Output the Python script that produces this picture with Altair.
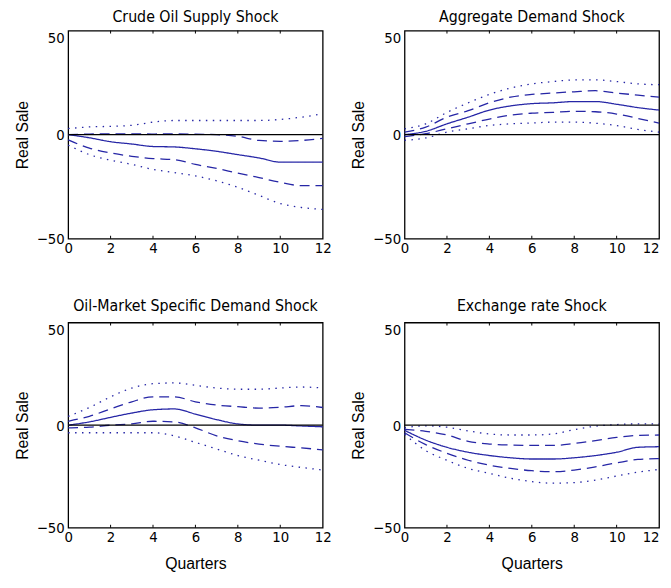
import altair as alt
import pandas as pd

quarters = list(range(13))

crude_mid = [0, -1.5, -3.4, -4.5, -5.7, -5.9, -6.8, -8.0, -9.6, -11.2, -13.2, -13.2, -13.2]
crude_up_dash = [0, 0.3, 0.4, 0.4, 0.3, 0.4, 0.2, 0, -0.8, -2.8, -3.2, -2.8, -1.8]
crude_lo_dash = [-2.5, -6.5, -8.8, -10.4, -11.5, -12.0, -14.3, -16.2, -18.5, -20.6, -22.9, -24.5, -24.5]
crude_up_dot = [2.9, 3.7, 4.0, 4.5, 6.0, 6.8, 6.8, 6.8, 6.8, 6.8, 7.3, 8.4, 10.0]
crude_lo_dot = [-5.0, -9.6, -12.3, -14.3, -16.7, -18.2, -19.8, -22.2, -25.3, -29.2, -33.1, -35.0, -35.9]

agg_mid = [0, 1.6, 5.2, 8.4, 11.8, 13.8, 14.9, 15.3, 15.9, 15.9, 14.6, 13.0, 11.8]
agg_up_dash = [1.2, 3.6, 8.4, 11.5, 15.3, 18.0, 19.3, 20.0, 20.6, 21.1, 20.0, 19.0, 18.0]
agg_lo_dash = [-1.0, 0.5, 2.8, 5.2, 7.5, 9.4, 10.3, 10.7, 11.2, 11.0, 9.9, 7.8, 5.5]
agg_up_dot = [2.8, 5.2, 10.7, 15.3, 19.3, 22.4, 24.4, 25.5, 26.3, 26.3, 25.5, 24.4, 24.0]
agg_lo_dot = [-2.7, -1.6, 1.2, 2.8, 4.4, 5.2, 5.6, 6.0, 6.0, 5.5, 4.4, 2.5, 1.2]

oil_mid = [0, 1.6, 3.8, 5.9, 7.5, 7.9, 5.4, 2.7, 0.6, 0, 0, -0.4, -0.8]
oil_up_dash = [1.9, 4.3, 7.9, 11.4, 13.8, 13.8, 11.4, 9.8, 9.0, 8.3, 8.7, 9.5, 8.6]
oil_lo_dash = [-1.3, -1.0, 0, 0.6, 1.9, 1.6, -1.3, -5.2, -7.6, -9.2, -10.3, -11.1, -12.0]
oil_up_dot = [4.3, 8.6, 13.8, 18.1, 20.2, 20.6, 19.4, 18.1, 17.5, 17.5, 18.1, 18.6, 18.1]
oil_lo_dot = [-3.7, -3.7, -3.7, -3.7, -3.7, -5.2, -8.4, -11.6, -14.8, -17.1, -19.2, -20.6, -21.9]

ex_mid = [-2.5, -7.3, -10.8, -13.2, -14.8, -15.9, -16.5, -16.5, -15.9, -14.8, -13.2, -10.8, -10.5]
ex_up_dash = [-2.0, -3.0, -4.8, -7.9, -9.2, -9.7, -9.9, -9.9, -8.9, -7.5, -6.0, -5.0, -4.8]
ex_lo_dash = [-3.7, -9.5, -13.7, -17.1, -19.5, -21.1, -22.2, -22.7, -21.9, -20.3, -18.4, -16.7, -16.3]
ex_up_dot = [-1.3, -0.3, -1.0, -2.8, -4.3, -4.8, -4.8, -4.3, -2.2, -0.5, 0.3, 0.6, 0.6]
ex_lo_dot = [-4.4, -12.4, -17.1, -21.1, -23.5, -25.9, -27.5, -28.3, -28.0, -26.8, -24.8, -22.9, -21.6]

titles = ["Crude Oil Supply Shock", "Aggregate Demand Shock",
          "Oil-Market Specific Demand Shock", "Exchange rate Shock"]
x_ticks = [0, 2, 4, 6, 8, 10, 12]
inner_ticks = [2, 4, 6, 8, 10]
y_ticks = [-50, 0, 50]

panels_data = [
    [crude_mid, crude_up_dash, crude_lo_dash, crude_up_dot, crude_lo_dot],
    [agg_mid, agg_up_dash, agg_lo_dash, agg_up_dot, agg_lo_dot],
    [oil_mid, oil_up_dash, oil_lo_dash, oil_up_dot, oil_lo_dot],
    [ex_mid, ex_up_dash, ex_lo_dash, ex_up_dot, ex_lo_dot],
]
band_names = ["mid", "up_dash", "lo_dash", "up_dot", "lo_dot"]
band_styles = ["solid", "dash", "dash", "dot", "dot"]

BLUE = "#2626a6"
COND = "DejaVu Sans Condensed, Liberation Sans Narrow, sans-serif"
SANS = "Liberation Sans, Arial, sans-serif"
W = 258


def panel(i, H, show_xtitle, title_offset, right_col):
    rows = []
    for name, style, vals in zip(band_names, band_styles, panels_data[i]):
        for q, v in zip(quarters, vals):
            rows.append({"q": q, "v": v, "band": name, "style": style})
    df = pd.DataFrame(rows)
    xscale = alt.Scale(domain=[0, 12], nice=False)
    yscale = alt.Scale(domain=[-50, 50], nice=False)
    xaxis_kw = dict(values=x_ticks, ticks=False, grid=False, domain=False,
                    labelPadding=2, format="d", titlePadding=11, labelFlush=False)
    xaxis_kw["title"] = "Quarters" if show_xtitle else None
    if right_col:
        xaxis_kw["labelAlign"] = {"condition": {"test": "datum.value === 12", "value": "right"},
                                  "value": "center"}
    lines = alt.Chart(df).mark_line(color=BLUE, strokeWidth=1.3, interpolate="monotone").encode(
        x=alt.X("q:Q", scale=xscale, axis=alt.Axis(**xaxis_kw)),
        y=alt.Y("v:Q", scale=yscale,
                axis=alt.Axis(values=y_ticks, ticks=False, grid=False, domain=False,
                              title="Real Sale", labelPadding=4, titlePadding=6,
                              labelBaseline={"condition": {"test": "datum.value === 50",
                                                           "value": "top"},
                                             "value": "middle"})),
        detail="band:N",
        strokeDash=alt.StrokeDash("style:N",
                                  scale=alt.Scale(domain=["solid", "dash", "dot"],
                                                  range=[[1, 0], [10, 6], [1.5, 5.5]]),
                                  legend=None),
    )
    zero = alt.Chart(pd.DataFrame({"z": [0]})).mark_rule(color="black", strokeWidth=1.3).encode(
        y=alt.Y("z:Q", scale=yscale))
    tdf = pd.DataFrame({"t": inner_ticks})
    tick_bot = alt.Chart(tdf).mark_rule(color="black", strokeWidth=1).encode(
        x=alt.X("t:Q", scale=xscale), y=alt.value(H - 3), y2=alt.value(H))
    tick_top = alt.Chart(tdf).mark_rule(color="black", strokeWidth=1).encode(
        x=alt.X("t:Q", scale=xscale), y=alt.value(0), y2=alt.value(3))
    return alt.layer(lines, zero, tick_bot, tick_top).properties(
        width=W, height=H,
        title=alt.TitleParams(titles[i], fontSize=16, font=COND, fontWeight="normal",
                              offset=title_offset, color="black", frame="group"))


chart = alt.concat(
    panel(0, 211, False, 5, False), panel(1, 211, False, 5, True),
    panel(2, 208, True, 8, False), panel(3, 208, True, 8, True),
    columns=2, spacing={"row": 41, "column": 17},
).properties(
    padding={"left": 5, "top": -4, "right": 0, "bottom": -2}
).configure_view(stroke="black", strokeWidth=1.3).configure_axis(
    labelFont=COND, labelFontSize=15, labelColor="black",
    titleFont=SANS, titleFontSize=16, titleColor="black", titleFontWeight="normal"
)

chart.save("out.html", embed_options={"renderer": "svg", "actions": False})
